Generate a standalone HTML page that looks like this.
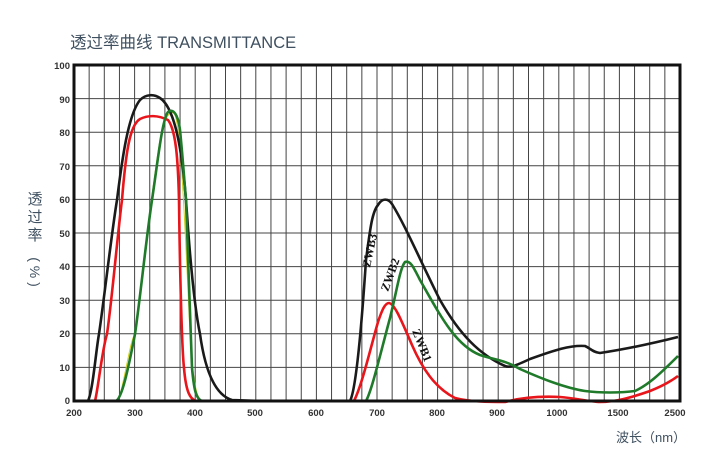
<!DOCTYPE html>
<html><head><meta charset="utf-8"><style>
html,body{margin:0;padding:0;background:#fff;}
svg{display:block;}
</style></head><body>
<svg width="720" height="460" viewBox="0 0 720 460" xmlns="http://www.w3.org/2000/svg">
<rect x="0" y="0" width="720" height="460" fill="#fff"/>
<text x="70" y="48" font-family="Liberation Sans, Noto Sans CJK SC, sans-serif" font-size="16.5" fill="#3f5060">透过率曲线 TRANSMITTANCE</text>
<g id="grid" stroke="#444" stroke-width="1" fill="none"></g>
<g font-family="Liberation Sans, sans-serif" font-size="9.5" font-weight="bold" fill="#333" text-anchor="end">
<text x="70" y="404">0</text><text x="70" y="371">10</text><text x="70" y="337">20</text><text x="70" y="304">30</text><text x="70" y="270">40</text><text x="70" y="237">50</text><text x="70" y="203">60</text><text x="70" y="170">70</text><text x="70" y="136">80</text><text x="70" y="103">90</text><text x="70" y="69">100</text>
</g>
<g font-family="Liberation Sans, sans-serif" font-size="9.5" font-weight="bold" fill="#333" text-anchor="middle">
<text x="74" y="416">200</text><text x="135" y="416">300</text><text x="195" y="416">400</text><text x="255" y="416">500</text><text x="316" y="416">600</text><text x="377" y="416">700</text><text x="437" y="416">800</text><text x="497" y="416">900</text><text x="557" y="416">1000</text><text x="618" y="416">1500</text><text x="675" y="416">2500</text>
</g>
<text x="616" y="442" font-family="Liberation Sans, Noto Sans CJK SC, sans-serif" font-size="13" fill="#3f5060">波长（nm）</text>
<g font-family="Liberation Sans, Noto Sans CJK SC, sans-serif" font-size="15" fill="#3f5060" text-anchor="middle">
<text x="35" y="204">透</text><text x="35" y="222">过</text><text x="35" y="240">率</text>
<text x="0" y="0" transform="translate(30 272) rotate(90)" font-size="14">( % )</text>
</g>
<g fill="none" stroke-width="2.6" stroke-linejoin="round">
<path stroke="#d0d020" stroke-width="1" d="M118,402 C125,380 130,340 135,334 C140,300 150,200 160,140 C165,115 170,111 174,113 C180,120 184,200 190,334 C193,380 196,398 202,402"/>
<path stroke="#1a1a1a" d="M88,401 C93,390 96,350 99,334 C104,300 112,230 117,200 C122,160 128,115 140,100 C146,94 154,94 160,98 C175,108 182,150 186,200 C190,260 195,310 200,334 C205,370 215,395 232,400 L260,401"/>
<path stroke="#e8151b" d="M95,401 C98,390 102,350 107,334 C112,300 118,230 122,200 C126,150 130,125 140,119 C148,115 158,115 168,120 C176,130 178,160 179,200 C180,280 182,350 184,368 C186,392 190,399 196,401"/>
<path stroke="#1f7a2a" d="M116,401 C122,398 128,370 135,334 C140,300 146,240 152,200 C158,160 162,120 168,112 C173,108 178,114 180,130 C183,160 185,190 186,200 C188,260 190,320 192,368 C194,390 196,399 202,401"/>
<path stroke="#1a1a1a" d="M350,401 C356,390 362,320 366,260 C370,230 372,212 378,205 C382,198 388,198 392,204 C405,225 420,260 440,300 C460,335 480,355 505,366 C510,368 515,366 530,359 C555,350 570,345 585,346 C590,348 592,352 600,353 C620,350 650,344 678,337"/>
<path stroke="#e8151b" d="M354,401 C362,385 370,350 378,322 C382,310 385,303 389,303 C395,304 402,322 412,345 C422,368 435,388 455,398 C470,402 490,402 505,402 C520,398 540,396 560,397 C575,398 590,402 600,402 C615,402 630,398 650,391 C660,387 670,382 678,376"/>
<path stroke="#1f7a2a" d="M366,401 C372,390 380,355 390,318 C397,290 400,268 405,262 C410,260 413,266 420,280 C440,315 455,345 480,355 C495,360 505,360 520,369 C540,378 565,388 585,391 C600,393 620,393 635,391 C648,385 660,374 678,356"/>
</g>
<g font-family="Liberation Serif, serif" font-size="12" font-weight="bold" fill="#111">
<text transform="translate(370 268) rotate(-78)">ZWB3</text>
<text transform="translate(388 292) rotate(-70)">ZWB2</text>
<text transform="translate(412 331) rotate(68)">ZWB1</text>
</g>
<rect x="74" y="65" width="606" height="336" fill="none" stroke="#111" stroke-width="3"/>
<script>
var g=document.getElementById('grid'),ns='http://www.w3.org/2000/svg';
for(var i=1;i<40;i++){var x=74+i*606/40;var l=document.createElementNS(ns,'line');l.setAttribute('x1',x);l.setAttribute('x2',x);l.setAttribute('y1',65);l.setAttribute('y2',401);g.appendChild(l);}
for(var j=1;j<10;j++){var y=65+j*33.6;var l=document.createElementNS(ns,'line');l.setAttribute('x1',74);l.setAttribute('x2',680);l.setAttribute('y1',y);l.setAttribute('y2',y);g.appendChild(l);}
</script>
</svg>
</body></html>
